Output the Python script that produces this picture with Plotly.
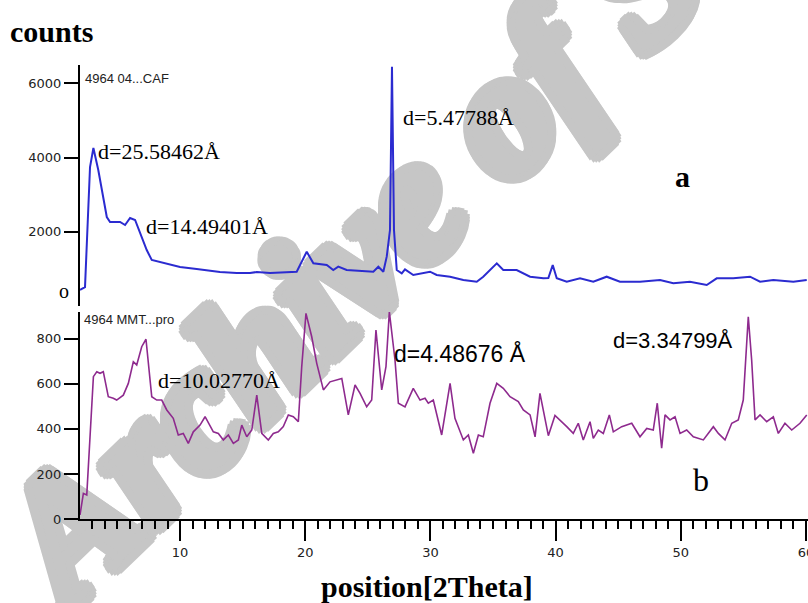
import plotly.graph_objects as go

W, H = 808, 603
def px(x):
    return x / W
def py(y):
    return 1 - y / H

# ---- data: pattern a (top, blue) ----
theta_a = [2.01, 2.41, 2.81, 3.08, 3.47, 3.75, 4.15, 4.41, 5.21, 5.61, 6.01, 6.41, 6.81,
           7.34, 7.74, 8.67, 10.00, 11.33, 13.19, 14.53, 15.59, 16.13, 17.19, 19.32,
           20.12, 20.65, 21.72, 22.24, 22.64, 23.31, 25.44, 25.84, 26.24, 26.51, 26.77,
           26.93, 27.09, 27.31, 27.71, 27.97, 28.63, 29.97, 30.50, 31.57, 32.63, 33.70,
           34.22, 35.30, 35.82, 36.89, 37.96, 39.02, 39.42, 39.77, 40.09, 40.89, 41.95,
           43.01, 44.08, 45.14, 46.74, 48.34, 49.40, 50.73, 52.07, 52.87, 54.19, 55.53,
           56.33, 57.39, 58.99, 60.06]
counts_a = [431, 510, 3747, 4259, 3666, 3127, 2399, 2264, 2264, 2183, 2372, 2318, 1968,
            1509, 1240, 1159, 1051, 997, 916, 889, 889, 916, 889, 925,
            1464, 1151, 1105, 970, 1060, 970, 925, 1060, 925, 1329, 2048,
            6450, 2048, 970, 881, 989, 836, 925, 836, 790, 701, 655,
            790, 1151, 970, 970, 790, 746, 755, 1105, 746, 655, 746,
            655, 790, 655, 655, 701, 611, 655, 566, 746, 746, 790,
            655, 701, 655, 701]

# ---- data: pattern b (bottom, purple) ----
theta_b = [2.01, 2.28, 2.55, 2.81, 3.08, 3.35, 3.61, 3.87, 4.27, 4.67, 4.94, 5.47, 5.87,
           6.27, 6.54, 6.94, 7.28, 7.74, 8.14, 8.54, 8.94, 9.46, 9.86, 10.26, 10.66,
           11.06, 11.60, 12.00, 12.26, 12.66, 13.06, 13.46, 13.86, 14.26, 14.66, 14.93,
           15.33, 15.73, 16.13, 16.53, 17.05, 17.45, 17.85, 18.25, 18.65, 19.05, 19.45,
           19.72, 20.06, 20.52, 20.92, 21.45, 21.98, 22.92, 23.44, 23.98, 24.38, 24.91,
           25.31, 25.65, 26.11, 26.45, 26.72, 27.17, 27.44, 27.97, 28.63, 29.17, 29.57,
           29.83, 30.23, 30.50, 30.90, 31.57, 31.96, 32.63, 33.03, 33.43, 33.83, 34.22,
           34.76, 35.30, 35.82, 36.36, 37.02, 37.42, 37.96, 38.36, 38.75, 39.42, 39.95,
           40.89, 41.41, 41.81, 42.21, 42.75, 43.01, 43.41, 43.81, 44.29, 44.61, 45.28,
           46.08, 46.74, 47.28, 47.80, 48.12, 48.47, 48.74, 49.14, 49.54, 49.94, 50.47,
           51.00, 51.80, 52.60, 53.00, 53.53, 54.07, 54.59, 54.99, 55.39, 55.66, 55.93,
           56.33, 56.86, 57.39, 57.79, 58.32, 58.86, 59.52, 60.06]
counts_b = [18, 114, 107, 351, 632, 654, 647, 654, 543, 536, 528, 550, 602,
            698, 684, 765, 798, 543, 528, 528, 484, 447, 373, 380, 336,
            387, 417, 454, 425, 387, 380, 351, 373, 336, 351, 417,
            365, 395, 550, 380, 351, 380, 387, 410, 462, 454, 432,
            676, 913, 809, 691, 573, 609, 624, 462, 595, 558, 498,
            528, 839, 573, 676, 920, 706, 514, 498, 580, 528, 536,
            514, 528, 469, 373, 602, 447, 351, 373, 292, 373, 365,
            514, 602, 580, 543, 521, 484, 462, 365, 558, 370, 460,
            410, 380, 425, 351, 432, 358, 395, 380, 462, 387, 410,
            425, 365, 402, 395, 514, 314, 462, 440, 454, 380, 395,
            365, 351, 410, 380, 351, 425, 440, 528, 898, 706, 440,
            462, 432, 454, 380, 425, 395, 425, 462]

x_ticks = [10, 20, 30, 40, 50, 60]
y_ticks_a = [2000, 4000, 6000]
y_ticks_b = [0, 200, 400, 600, 800]

fig = go.Figure()
fig.add_trace(go.Scatter(x=theta_a, y=counts_a, mode='lines',
                         line=dict(color='#2b2bd0', width=2),
                         xaxis='x2', yaxis='y2', showlegend=False, hoverinfo='skip'))
fig.add_trace(go.Scatter(x=theta_b, y=counts_b, mode='lines',
                         line=dict(color='#8e2a8e', width=1.6),
                         showlegend=False, hoverinfo='skip'))

tickfont = dict(family='DejaVu Sans', size=13, color='#222')
common_y = dict(showline=True, linecolor='black', linewidth=2, ticks='outside',
                ticklen=14, tickwidth=2, tickcolor='black', showgrid=False,
                zeroline=False, tickfont=tickfont, automargin=False)

fig.update_layout(
    width=W, height=H,
    margin=dict(l=0, r=0, t=0, b=0),
    paper_bgcolor='white', plot_bgcolor='rgba(0,0,0,0)',
    xaxis=dict(domain=[px(80), 1], range=[2.01, 60.16], anchor='y',
               showline=True, linecolor='black', linewidth=2,
               ticks='outside', ticklen=20, tickwidth=2, tickcolor='black',
               tickmode='array', tickvals=x_ticks, ticklabeloverflow='allow',
               minor=dict(dtick=1, tick0=0, ticks='outside', ticklen=8,
                          tickwidth=1.5, tickcolor='black', showgrid=False),
               showgrid=False, zeroline=False, tickfont=tickfont, automargin=False),
    yaxis=dict(domain=[py(519), py(312)], range=[0, 919], anchor='x',
               tickmode='array', tickvals=y_ticks_b, **common_y),
    xaxis2=dict(domain=[px(80), 1], range=[2.01, 60.16], anchor='y2',
                matches='x', visible=False),
    yaxis2=dict(domain=[py(306), py(65)], range=[0, 6496], anchor='x2',
                tickmode='array', tickvals=y_ticks_a, **common_y),
)

# watermark (drawn below the traces), fattened with a ring of text shadows
wm_col = '#c6c6c6'
ring = []
for dx, dy in [(9, 0), (-9, 0), (0, 9), (0, -9), (6, 6), (-6, 6), (6, -6), (-6, -6),
               (4, 0), (-4, 0), (0, 4), (0, -4), (3, 3), (-3, 3), (3, -3), (-3, -3),
               (8, 4), (-8, 4), (8, -4), (-8, -4), (4, 8), (-4, 8), (4, -8), (-4, -8)]:
    ring.append(f'{dx}px {dy}px 0 {wm_col}')
cx, cy = 408, 176
fig.add_shape(type='rect', xref='paper', yref='paper',
              x0=px(cx - 10), x1=px(cx + 10), y0=py(cy + 10), y1=py(cy - 10),
              line=dict(width=0), fillcolor='rgba(0,0,0,0)', layer='below',
              label=dict(text='Archive of SID', textangle=-44,
                         textposition='middle center',
                         font=dict(family='Liberation Serif', size=175,
                                   color=wm_col, weight='bold', style='italic',
                                   shadow=', '.join(ring))))

serif = 'Liberation Serif'
sans = 'Liberation Sans'
def ann(text, x, y, size, family, bold=False, xanchor='left', color='black'):
    return dict(text=text, x=px(x), y=py(y), xref='paper', yref='paper',
                showarrow=False, xanchor=xanchor, yanchor='middle',
                font=dict(family=family, size=size, color=color,
                          weight='bold' if bold else 'normal'))

fig.update_layout(annotations=[
    ann('counts', 8, 32, 30, serif, bold=True),
    ann('4964 04...CAF', 83, 79, 13, sans, color='#222'),
    ann('4964 MMT...pro', 82, 319, 13, sans, color='#222'),
    ann('d=25.58462Å', 96, 152, 22, serif),
    ann('d=14.49401Å', 144, 226, 22, serif),
    ann('d=5.47788Å', 401, 117, 22, serif),
    ann('a', 682, 176, 30, serif, bold=True, xanchor='center'),
    ann('d=10.02770Å', 156, 380, 22, serif),
    ann('d=4.48676 Å', 392, 353, 23, sans),
    ann('d=3.34799Å', 611, 340, 22, sans),
    ann('b', 701, 480, 32, serif, xanchor='center'),
    ann('o', 64, 291, 20, serif, xanchor='center'),
    ann('position[2Theta]', 427, 586, 30, serif, bold=True, xanchor='center'),
])

fig.write_html('out.html')
